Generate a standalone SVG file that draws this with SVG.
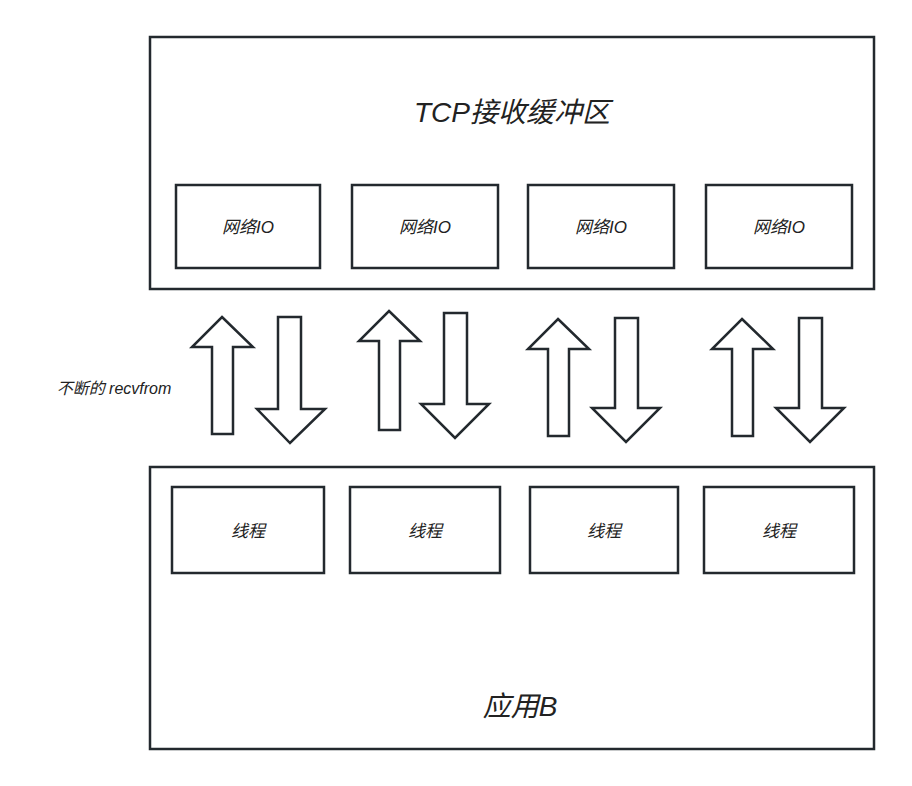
<svg xmlns="http://www.w3.org/2000/svg" width="912" height="786" viewBox="0 0 912 786">
<style>
.b{fill:#fff;stroke:#23292e;stroke-width:2.5}
.a{fill:#fff;stroke:#23292e;stroke-width:2.5;stroke-linejoin:miter}
text{font-family:"Liberation Sans","Noto Sans CJK SC",sans-serif;font-style:italic;fill:#222;text-anchor:middle}
.s{font-size:17px}
.l{font-size:28px}
</style>
<rect width="912" height="786" fill="#fff"/>
<g id="tcp"><rect class="b" x="150" y="37" width="724" height="252"/><text class="l" x="512" y="122">TCP接收缓冲区</text></g>
<g id="io1"><rect class="b" x="176" y="185" width="144" height="83"/><text class="s" x="248" y="233">网络IO</text></g>
<g id="io2"><rect class="b" x="352" y="185" width="146" height="83"/><text class="s" x="425" y="233">网络IO</text></g>
<g id="io3"><rect class="b" x="528" y="185" width="146" height="83"/><text class="s" x="601" y="233">网络IO</text></g>
<g id="io4"><rect class="b" x="706" y="185" width="146" height="83"/><text class="s" x="779" y="233">网络IO</text></g>
<g id="app"><rect class="b" x="150" y="467" width="724" height="282"/><text class="l" x="520" y="716">应用B</text></g>
<g id="t1"><rect class="b" x="172" y="487" width="152" height="86"/><text class="s" x="248" y="537">线程</text></g>
<g id="t2"><rect class="b" x="350" y="487" width="150" height="86"/><text class="s" x="425" y="537">线程</text></g>
<g id="t3"><rect class="b" x="530" y="487" width="148" height="86"/><text class="s" x="604" y="537">线程</text></g>
<g id="t4"><rect class="b" x="704" y="487" width="150" height="86"/><text class="s" x="779" y="537">线程</text></g>
<g id="connectors">
<polygon class="a" points="222,317 253,347 233,347 233,434 212,434 212,347 192,347"/>
<polygon class="a" points="278,317 301,317 301,409 325,409 290,443 257,409 278,409"/>
<polygon class="a" points="389,311 420,341 400,341 400,430 379,430 379,341 359,341"/>
<polygon class="a" points="444,313 467,313 467,404 489,404 455,438 421,404 444,404"/>
<polygon class="a" points="558,319 589,349 569,349 569,436 548,436 548,349 528,349"/>
<polygon class="a" points="615,318 638,318 638,408 660,408 626,442 592,408 615,408"/>
<polygon class="a" points="742,319 773,349 753,349 753,436 732,436 732,349 712,349"/>
<polygon class="a" points="799,318 822,318 822,408 844,408 810,442 776,408 799,408"/>
</g>
<text class="s" x="114" y="394" style="font-size:16px">不断的 recvfrom</text>
</svg>
